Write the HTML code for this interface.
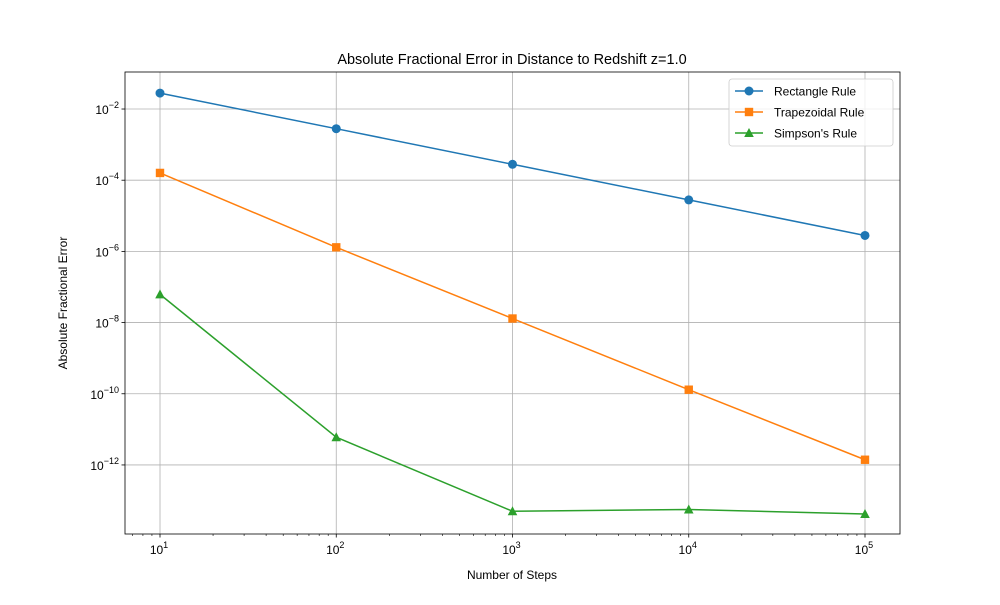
<!DOCTYPE html>
<html><head><meta charset="utf-8"><style>
body{margin:0;background:#fff;}
svg{font-family:"Liberation Sans","DejaVu Sans",sans-serif;}
</style></head><body>
<svg id="chart" width="1000" height="600" viewBox="0 0 1000 600" xmlns="http://www.w3.org/2000/svg">
<rect width="1000" height="600" fill="#fff"/>
<g id="grid"></g><g id="axes"></g><g id="series"></g><g id="legend"></g>
</svg>
<script>
const steps = [10, 100, 1000, 10000, 100000];
const rectErr = [2.8e-2, 2.8e-3, 2.8e-4, 2.8e-5, 2.8e-6];
const trapErr = [1.6e-4, 1.3e-6, 1.3e-8, 1.3e-10, 1.4e-12];
const simpErr = [6.2e-8, 6e-12, 5e-14, 5.6e-14, 4.2e-14];
const xTickExps = [1, 2, 3, 4, 5];
const yTickExps = [-2, -4, -6, -8, -10, -12];
const seriesNames = ["Rectangle Rule", "Trapezoidal Rule", "Simpson's Rule"];

const NS = "http://www.w3.org/2000/svg";
const L = 125, R = 900, T = 72, B = 534;
const xMin = 0.8014, xMax = 5.1986, yMin = -13.94, yMax = -0.96;
function xs(v){ return L + (Math.log10(v) - xMin) / (xMax - xMin) * (R - L); }
function ys(v){ return B - (Math.log10(v) - yMin) / (yMax - yMin) * (B - T); }
function mk(tag, attrs, parent){ const e = document.createElementNS(NS, tag); for (const k in attrs) e.setAttribute(k, attrs[k]); parent.appendChild(e); return e; }
const grid = document.getElementById('grid'), axes = document.getElementById('axes'), ser = document.getElementById('series'), leg = document.getElementById('legend');

function sup(parent, x, y, exp, anchor){
  const t = mk('text', {x: x, y: y, 'font-size': 12, 'text-anchor': anchor, fill: '#000'}, parent);
  t.appendChild(document.createTextNode('10'));
  const s = mk('tspan', {dy: -6, 'font-size': 9}, t);
  s.textContent = exp < 0 ? '\u2212' + (-exp) : String(exp);
  return t;
}
xTickExps.forEach(e => {
  const x = xs(Math.pow(10, e));
  const g = mk('line', {x1: x, x2: x, y1: T, y2: B, stroke: '#b0b0b0', 'stroke-width': 0.8}, grid);
  
  
  mk('line', {x1: x, x2: x, y1: B, y2: B + 3.5, stroke: '#000', 'stroke-width': 0.8}, axes);
  const t = sup(axes, x - 1, B + 20, e, 'middle');
  
  
});
for (let e = 0; e <= 5; e++) for (let m = 2; m <= 9; m++) {
  const v = m * Math.pow(10, e), lv = Math.log10(v);
  if (lv < xMin || lv > xMax) continue;
  const x = xs(v);
  mk('line', {x1: x, x2: x, y1: B, y2: B + 2, stroke: '#000', 'stroke-width': 0.6}, axes);
}
yTickExps.forEach(e => {
  const y = ys(Math.pow(10, e));
  const g = mk('line', {x1: L, x2: R, y1: y, y2: y, stroke: '#b0b0b0', 'stroke-width': 0.8}, grid);
  
  
  mk('line', {x1: L - 3.5, x2: L, y1: y, y2: y, stroke: '#000', 'stroke-width': 0.8}, axes);
  const t = sup(axes, L - 6, y + 5, e, 'end');
  
  
});
const frame = mk('rect', {x: L, y: T, width: R - L, height: B - T, fill: 'none', stroke: '#000', 'stroke-width': 0.8}, axes);


const title = mk('text', {x: 512, y: 64, 'font-size': 14.5, 'text-anchor': 'middle'}, axes);
title.textContent = 'Absolute Fractional Error in Distance to Redshift z=1.0';


const xt = mk('text', {x: 512, y: 579, 'font-size': 12, 'text-anchor': 'middle'}, axes);
xt.textContent = 'Number of Steps';


const yt = mk('text', {x: 67, y: 303, 'font-size': 12, 'text-anchor': 'middle', transform: 'rotate(-90 67 303)'}, axes);
yt.textContent = 'Absolute Fractional Error';



const colors = ['#1f77b4', '#ff7f0e', '#2ca02c'];
function marker(parent, kind, x, y, c){
  if (kind === 0) return mk('circle', {cx: x, cy: y, r: 4.5, fill: c}, parent);
  if (kind === 1) return mk('rect', {x: x - 4.2, y: y - 4.2, width: 8.4, height: 8.4, fill: c}, parent);
  return mk('polygon', {points: `${x},${y-5} ${x-4.8},${y+4} ${x+4.8},${y+4}`, fill: c}, parent);
}
[rectErr, trapErr, simpErr].forEach((data, si) => {
  const g = mk('g', {}, ser);
  
  
  const pts = data.map((v, i) => xs(steps[i]) + ',' + ys(v)).join(' ');
  mk('polyline', {points: pts, fill: 'none', stroke: colors[si], 'stroke-width': 1.5}, g);
  data.forEach((v, i) => {
    const m = marker(g, si, xs(steps[i]), ys(v), colors[si]);
    
    
  });
});
const lb = mk('rect', {x: 729, y: 79, width: 164, height: 67, rx: 3, fill: '#fff', 'fill-opacity': 0.8, stroke: '#ccc', 'stroke-width': 0.8}, leg);


seriesNames.forEach((n, i) => {
  const y = 91 + i * 21;
  const g = mk('g', {}, leg);
  
  
  mk('line', {x1: 735, x2: 763, y1: y, y2: y, stroke: colors[i], 'stroke-width': 1.5}, g);
  marker(g, i, 749, y, colors[i]);
  const t = mk('text', {x: 774, y: y + 4.5, 'font-size': 12}, g);
  t.textContent = n;
});
</script>
</body></html>
